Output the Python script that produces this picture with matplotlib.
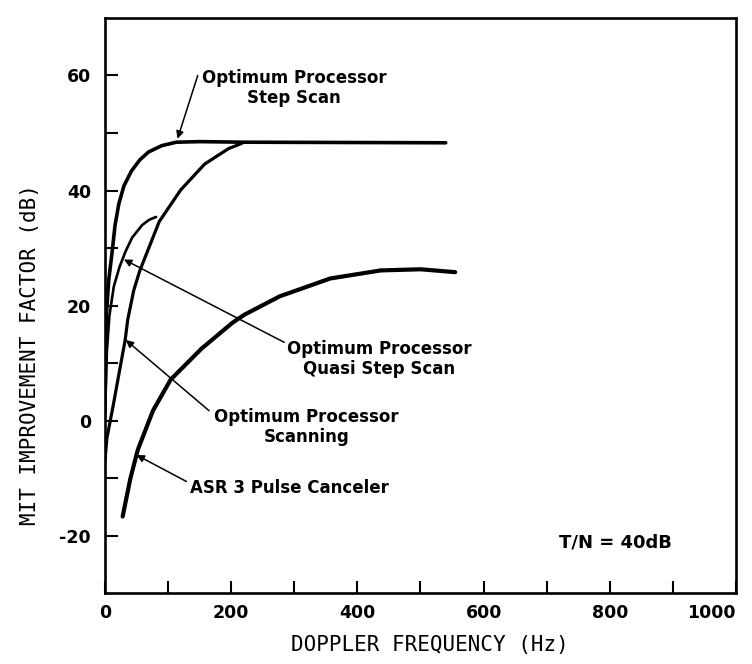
"""MTI improvement factor vs. Doppler frequency for several processors (T/N = 40 dB).
Values were read off a scanned figure, so they are estimates.
"""
import numpy as np
import matplotlib.pyplot as plt


# === DATA ===
# Optimum processor, step scan
step_freq = [0, 2, 6, 11, 16, 22, 30, 42, 55, 69, 90, 113, 150, 220, 540]
step_imp = [2, 18, 24.5, 29, 34, 37.7, 40.8, 43.4, 45.3, 46.7, 47.8, 48.4, 48.5, 48.4, 48.3]

# Optimum processor, quasi step scan (joins the scanning curve near 80 Hz)
quasi_freq = [0, 3, 7, 14, 23, 33, 43, 59, 70, 81]
quasi_imp = [1, 12, 18.2, 23.3, 26.7, 29.5, 31.8, 34, 34.9, 35.4]

# Optimum processor, scanning
scan_freq = [0, 3, 13, 22.6, 32, 36, 45.5, 55, 86, 120, 158, 196, 217]
scan_imp = [-7, -3.1, 2.6, 8.4, 14, 17.5, 22.6, 26, 34.6, 40.1, 44.6, 47.3, 48.2]

# ASR 3 pulse canceler
asr_freq = [28, 40, 52, 76, 104, 153, 202, 221, 277, 357, 437, 500, 555]
asr_imp = [-16.7, -10.2, -5.1, 1.7, 7.1, 12.5, 17, 18.4, 21.6, 24.7, 26.1, 26.3, 25.8]

x_major = [0, 200, 400, 600, 800, 1000]
x_minor = [100, 300, 500, 700, 900]
y_major = [-20, 0, 20, 40, 60]
y_minor = [-10, 10, 30, 50]

# Constants
LABEL_FONT = "DejaVu Sans"
AXIS_FONT = "DejaVu Sans Mono"
ARROW = dict(arrowstyle="-|>", lw=1.1, color="black", mutation_scale=11,
             shrinkA=0, shrinkB=0)

# The scan prints "-20" with a plain hyphen
plt.rcParams["axes.unicode_minus"] = False


def add_label( ax, text, xy, tail, tip, **kw ) -> None:
    """Put a curve label and draw a thin arrow from it to the curve."""
    ax.text(*xy, text, fontsize=12, fontweight="bold", family=LABEL_FONT,
            multialignment="center", linespacing=1.15, **kw)
    ax.annotate("", xy=tip, xytext=tail, arrowprops=ARROW)


fig = plt.figure(figsize=(7.52, 6.64), dpi=100)
ax = fig.add_axes([0.1396, 0.1069, 0.8391, 0.8660])

ax.plot(step_freq, step_imp, color="black", lw=2.6, solid_capstyle="round")
ax.plot(quasi_freq, quasi_imp, color="black", lw=1.9, solid_capstyle="round")
ax.plot(scan_freq, scan_imp, color="black", lw=2.3, solid_capstyle="round")
ax.plot(asr_freq, asr_imp, color="black", lw=3.0, solid_capstyle="round")

ax.set_xlim(0, 1000)
ax.set_ylim(-30, 70)
ax.set_xticks(x_major)
ax.set_xticks(x_minor, minor=True)
ax.set_yticks(y_major)
ax.set_yticks(y_minor, minor=True)

for which in ("major", "minor"):
    ax.tick_params(which=which, direction="in", length=9, width=1.5,
                   top=False, right=False, color="black")
ax.tick_params(axis="x", pad=8)
ax.tick_params(axis="y", pad=10)
for lab in ax.get_xticklabels() + ax.get_yticklabels():
    lab.set_fontsize(12.5)
    lab.set_fontweight("bold")
    lab.set_family(LABEL_FONT)
# The last label sits at the right edge of the figure: keep it inside.
ax.get_xticklabels()[-1].set_horizontalalignment("right")

for spine in ax.spines.values():
    spine.set_linewidth(1.9)

# Curve labels (text position, arrow tail, arrow tip in data coords)
add_label(ax, "Optimum Processor\nStep Scan", (300, 57.8), (147, 60), (115, 49),
          ha="center", va="center")
add_label(ax, "Optimum Processor\nQuasi Step Scan", (435, 10.7), (284, 13.6), (30, 28),
          ha="center", va="center")
add_label(ax, "Optimum Processor\nScanning", (319, -1.2), (165, 1.7), (33, 14),
          ha="center", va="center")
add_label(ax, "ASR 3 Pulse Canceler", (135, -11.8), (129, -10.6), (50, -6),
          ha="left", va="center")

ax.text(809, -21.3, "T/N = 40dB", fontsize=13, fontweight="bold",
        family=LABEL_FONT, ha="center", va="center")

# Axis titles, placed in figure pixels like the scan
fig.text(30 / 752, 1 - 355 / 664, "MIT IMPROVEMENT FACTOR (dB)", rotation=90,
         ha="center", va="center", fontsize=15, family=AXIS_FONT)
fig.text(430 / 752, 1 - 645 / 664, "DOPPLER FREQUENCY (Hz)",
         ha="center", va="center", fontsize=15, family=AXIS_FONT)

fig.savefig("out.png", dpi=100)
